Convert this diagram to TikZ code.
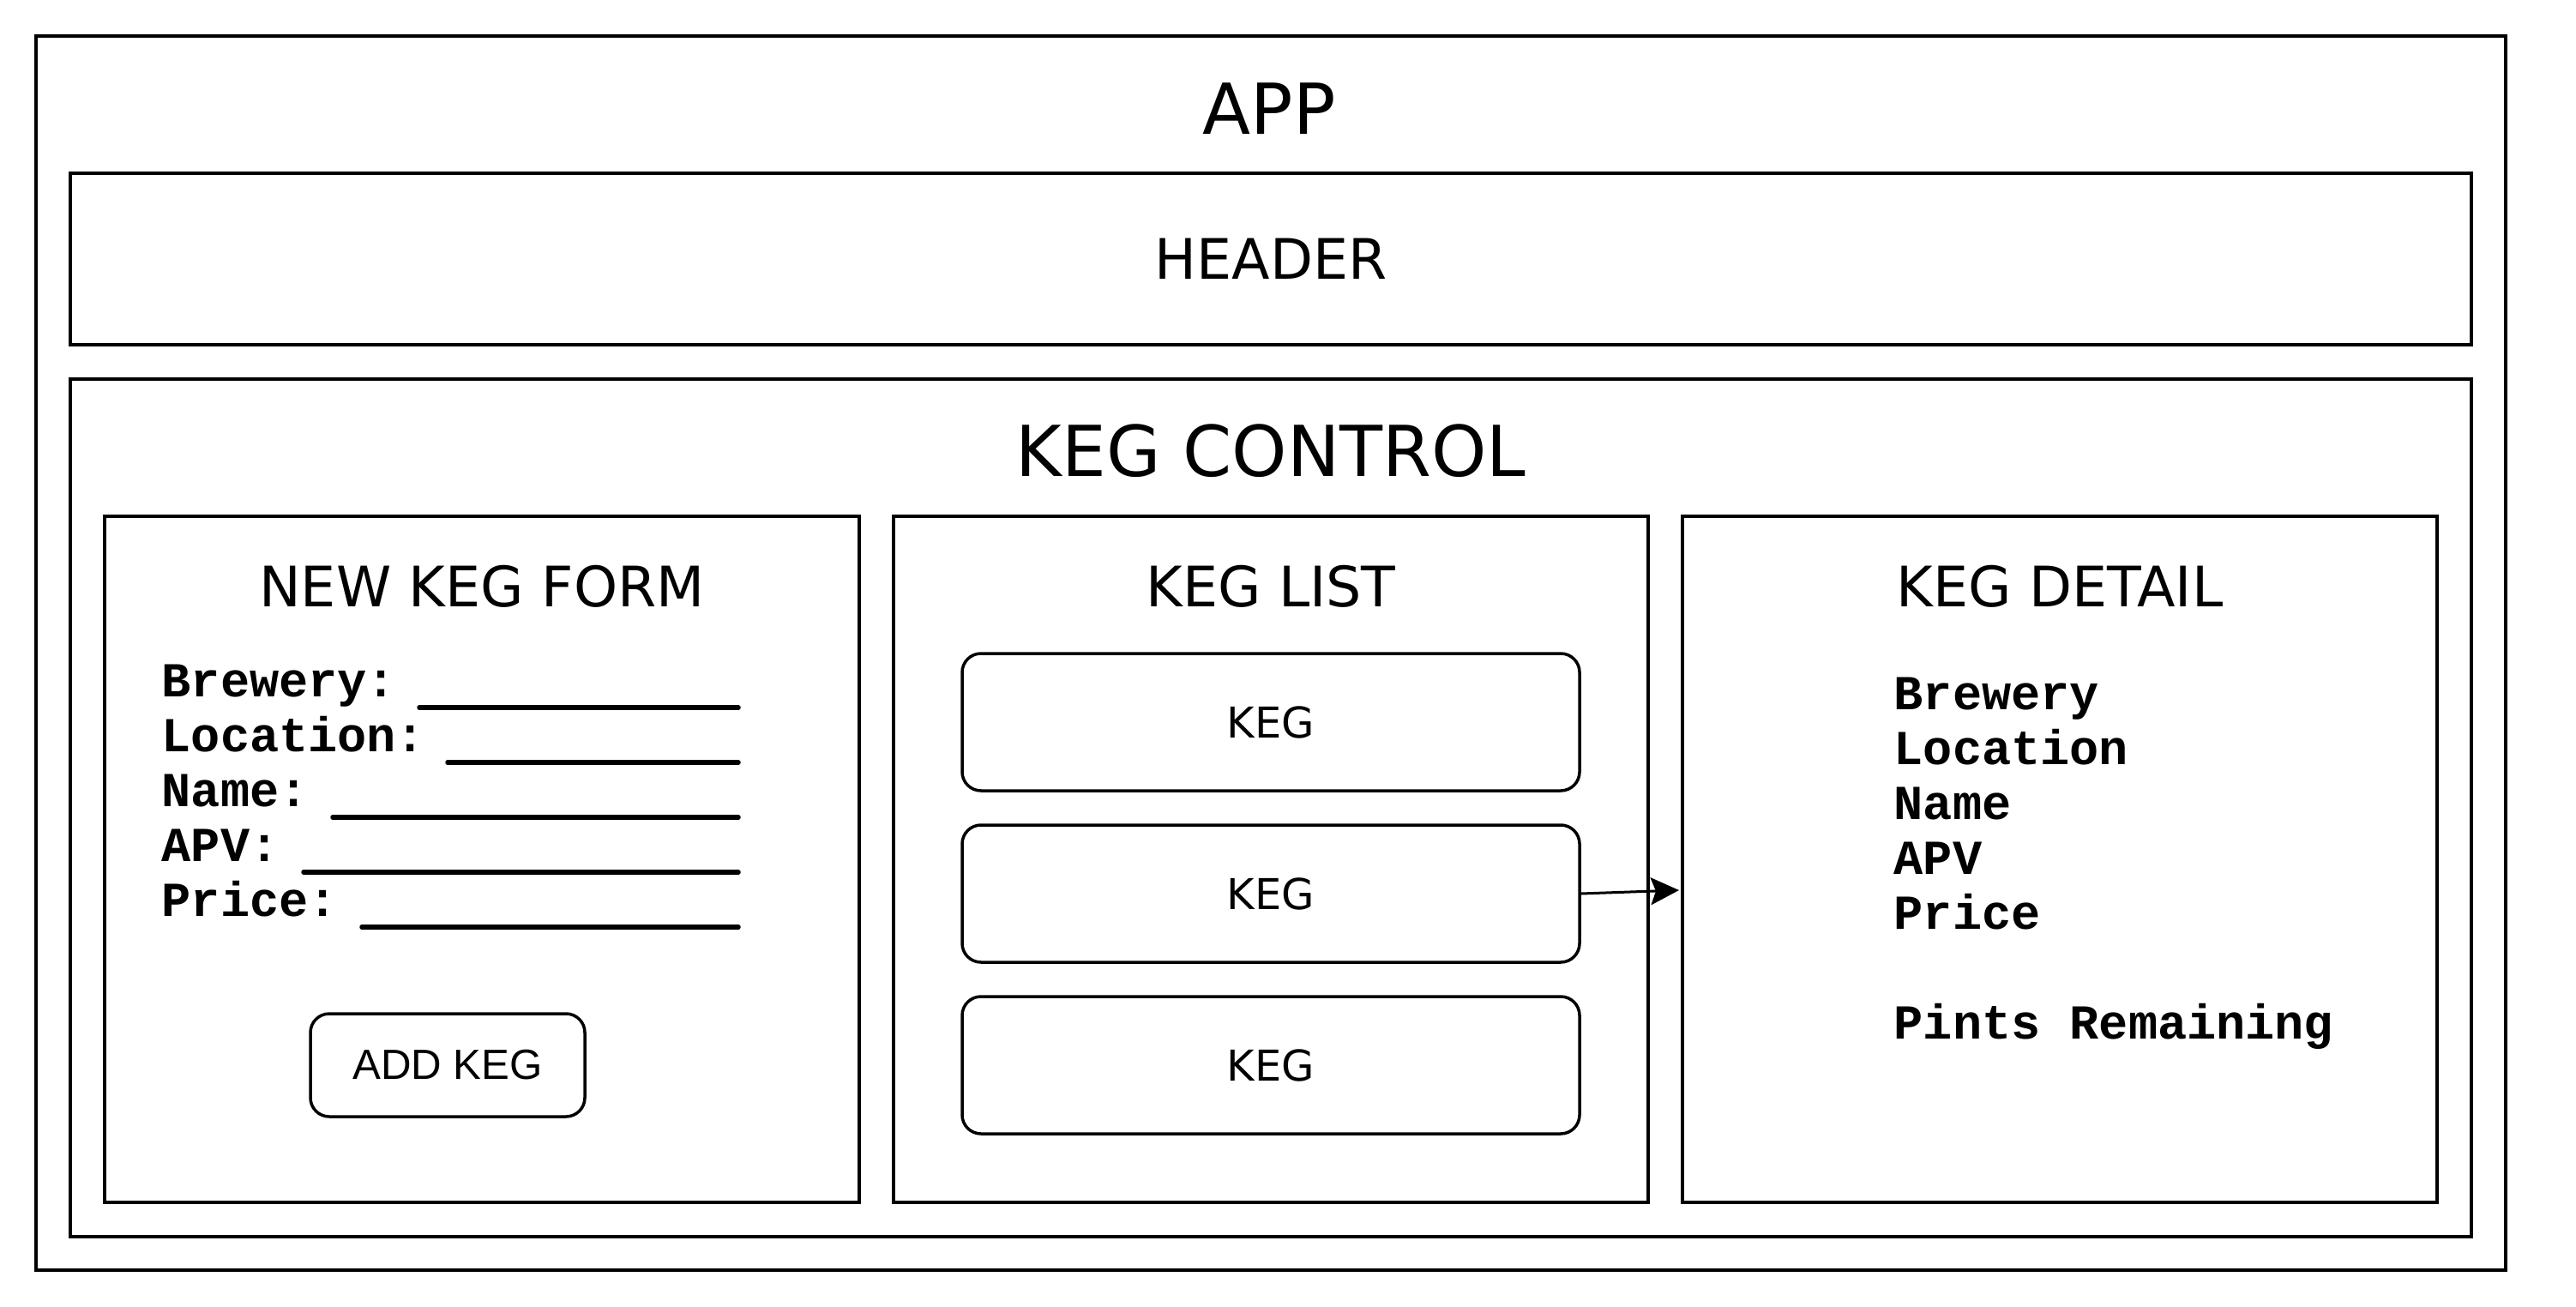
\documentclass[tikz,border=0pt]{standalone}
\usepackage{fontspec}
\setmainfont{DejaVu Sans}
\newfontfamily\fieldfont{Liberation Mono}
\newfontfamily\buttonfont{Liberation Sans}
\usetikzlibrary{arrows.meta}
\tikzset{
  panel/.style={draw, line width=0.04cm, inner sep=0pt},
  card/.style={draw, line width=0.035cm, rounded corners=0.22cm, inner sep=0pt},
  blank/.style={line width=0.055cm, line cap=round},
  field/.style={anchor=base west, inner sep=0pt, font=\fieldfont\bfseries\fontsize{16.2}{18}\selectfont},
  bigtitle/.style={inner sep=0pt, font=\fontsize{23.3}{28}\selectfont},
  title/.style={inner sep=0pt, font=\fontsize{18.5}{22}\selectfont},
}
\begin{document}
\begin{tikzpicture}
\useasboundingbox (0,0) rectangle (30.04,-15.24);
% frames
\node[panel, minimum width=28.8cm, minimum height=14.39cm] (app) at (14.82,-7.615) {};
\node[panel, title, minimum width=28cm, minimum height=2cm] (header) at (14.82,-3.02) {HEADER};
\node[panel, minimum width=28cm, minimum height=10cm] (kegctrl) at (14.82,-9.42) {};
\node[bigtitle] (apptitle) at (14.8,-1.27) {APP};
\node[bigtitle] (kegctrltitle) at (14.82,-5.26) {KEG CONTROL};
% the three panels
\node[panel, minimum width=8.8cm, minimum height=8cm] (formpanel) at (5.62,-10.02) {};
\node[panel, minimum width=8.8cm, minimum height=8cm] (listpanel) at (14.82,-10.02) {};
\node[panel, minimum width=8.8cm, minimum height=8cm] (detailpanel) at (24.02,-10.02) {};
\node[title] (formtitle) at (5.62,-6.84) {NEW KEG FORM};
\node[title] (listtitle) at (14.82,-6.84) {KEG LIST};
\node[title] (detailtitle) at (24.02,-6.84) {KEG DETAIL};
% form
\node[field] (brewery) at (1.88,-8.12) {Brewery:};
\node[field] (location) at (1.88,-8.76) {Location:};
\node[field] (name) at (1.88,-9.40) {Name:};
\node[field] (apv) at (1.88,-10.04) {APV:};
\node[field] (price) at (1.88,-10.68) {Price:};
\draw[blank] (4.89,-8.25) -- (8.61,-8.25);
\draw[blank] (5.22,-8.89) -- (8.61,-8.89);
\draw[blank] (3.88,-9.53) -- (8.61,-9.53);
\draw[blank] (3.54,-10.17) -- (8.61,-10.17);
\draw[blank] (4.22,-10.81) -- (8.61,-10.81);
\node[card, minimum width=3.2cm, minimum height=1.2cm, font=\buttonfont\fontsize{14}{17}\selectfont] (addkeg) at (5.22,-12.42) {ADD KEG};
% list
\node[card, minimum width=7.2cm, minimum height=1.6cm, font=\fontsize{14.1}{17}\selectfont] (kegone) at (14.82,-8.42) {KEG};
\node[card, minimum width=7.2cm, minimum height=1.6cm, font=\fontsize{14.1}{17}\selectfont] (kegtwo) at (14.82,-10.42) {KEG};
\node[card, minimum width=7.2cm, minimum height=1.6cm, font=\fontsize{14.1}{17}\selectfont] (kegthree) at (14.82,-12.42) {KEG};
% detail
\node[field] (dbrewery) at (22.08,-8.27) {Brewery};
\node[field] (dlocation) at (22.08,-8.91) {Location};
\node[field] (dname) at (22.08,-9.55) {Name};
\node[field] (dapv) at (22.08,-10.19) {APV};
\node[field] (dprice) at (22.08,-10.83) {Price};
\node[field] (dpints) at (22.08,-12.11) {Pints Remaining};
\coordinate (tip) at (19.58,-10.38);
\draw[line width=0.03cm, -{Stealth[length=0.33cm, width=0.32cm, inset=0.06cm]}] (kegtwo.east) -- (tip);
\end{tikzpicture}
\end{document}
